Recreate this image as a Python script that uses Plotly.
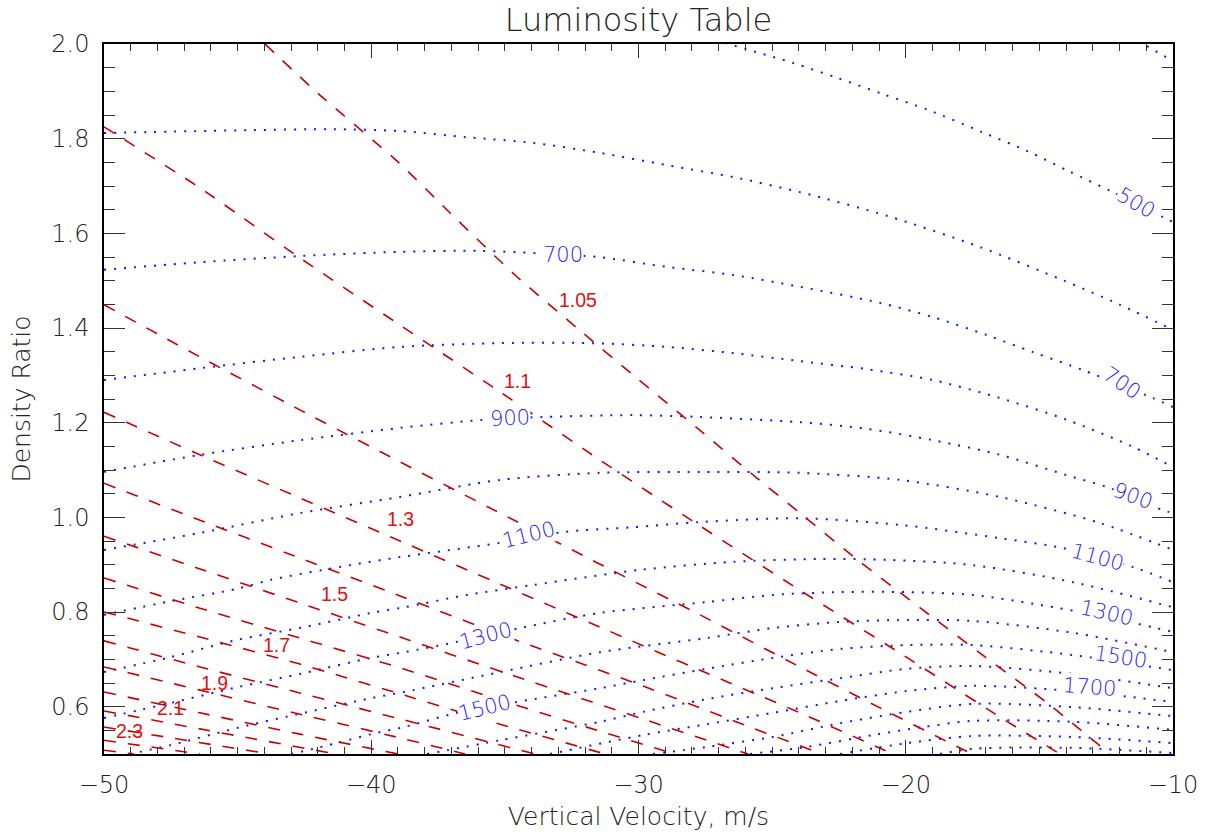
import plotly.graph_objects as go

# ---- Luminosity contours (blue, dotted): vertical velocity (m/s) vs density ratio ----
lum400_v = [-11.3, -10.0]
lum400_r = [2.006, 1.964]

lum500_v = [-26.76, -24.22, -22.54, -20.85, -19.17, -17.15, -15.46, -13.85, -12.25, -10.37, -10.0]
lum500_r = [2.002, 1.960, 1.928, 1.894, 1.861, 1.814, 1.774, 1.730, 1.687, 1.634, 1.624]

lum600_v = [-50, -44.54, -41.54, -38.92, -36.42, -33.95, -31.44, -28.93, -26.46, -23.96, -20.70, -17.22, -14.12, -11.98, -10]
lum600_r = [1.812, 1.818, 1.820, 1.816, 1.803, 1.791, 1.770, 1.744, 1.719, 1.687, 1.637, 1.571, 1.501, 1.449, 1.396]

lum700_v = [-50, -46.41, -42.67, -38.92, -35.93, -33.80, -31.52, -28.93, -26.46, -23.96, -20.96, -18.98, -16.97, -15.24, -13.37, -10.75, -10]
lum700_r = [1.523, 1.539, 1.552, 1.561, 1.563, 1.558, 1.550, 1.529, 1.512, 1.487, 1.453, 1.423, 1.385, 1.349, 1.311, 1.252, 1.233]

lum800_v = [-50, -46.41, -42.67, -38.92, -35.18, -31.70, -28.93, -26.46, -23.96, -21.45, -18.98, -16.47, -13.97, -11.50, -10]
lum800_r = [1.290, 1.315, 1.339, 1.360, 1.368, 1.368, 1.360, 1.347, 1.330, 1.313, 1.290, 1.252, 1.206, 1.149, 1.106]

lum900_v = [-50, -46.41, -42.67, -38.92, -35.82, -33.57, -30.21, -27.70, -23.96, -21.45, -18.98, -16.47, -13.97, -12.47, -10.37, -10]
lum900_r = [1.096, 1.132, 1.163, 1.189, 1.206, 1.212, 1.216, 1.212, 1.201, 1.187, 1.163, 1.132, 1.089, 1.064, 1.015, 1.009]

lum1000_v = [-50, -46.41, -42.67, -38.92, -35.18, -31.44, -27.70, -23.96, -20.21, -16.47, -12.73, -10]
lum1000_r = [0.931, 0.967, 1.009, 1.043, 1.079, 1.094, 1.096, 1.094, 1.079, 1.043, 0.988, 0.931]

lum1100_v = [-50, -47.49, -45.02, -43.75, -40.80, -38.92, -35.18, -32.82, -30.21, -27.70, -23.96, -20.21, -16.47, -14.12, -11.50, -10]
lum1100_r = [0.794, 0.823, 0.849, 0.868, 0.899, 0.916, 0.946, 0.969, 0.979, 0.990, 0.998, 0.984, 0.956, 0.935, 0.895, 0.863]

lum1200_v = [-50, -47.49, -45.02, -42.52, -40.01, -38.77, -36.42, -33.95, -29.94, -26.46, -23.21, -20.59, -17.48, -13.74, -10]
lum1200_r = [0.673, 0.705, 0.741, 0.768, 0.798, 0.810, 0.836, 0.857, 0.889, 0.906, 0.912, 0.910, 0.899, 0.863, 0.810]

lum1300_v = [-50, -47.49, -45.02, -42.52, -40.01, -38.77, -36.79, -34.43, -31.44, -27.44, -24.97, -22.46, -19.95, -17.48, -14.98, -12.47, -10]
lum1300_r = [0.576, 0.608, 0.641, 0.671, 0.703, 0.715, 0.737, 0.766, 0.798, 0.821, 0.836, 0.842, 0.842, 0.836, 0.815, 0.789, 0.758]

lum1400_v = [-49.03, -47.49, -45.02, -42.52, -40.01, -38.77, -35.18, -31.44, -27.44, -24.97, -22.46, -19.95, -17.48, -13.74, -10]
lum1400_r = [0.500, 0.519, 0.555, 0.587, 0.618, 0.631, 0.673, 0.715, 0.745, 0.766, 0.779, 0.783, 0.781, 0.756, 0.715]

lum1500_v = [-43.00, -41.28, -40.01, -38.77, -36.79, -34.55, -31.44, -29.83, -27.44, -24.97, -22.46, -19.95, -17.48, -13.74, -10]
lum1500_r = [0.500, 0.523, 0.542, 0.557, 0.587, 0.610, 0.639, 0.656, 0.680, 0.703, 0.722, 0.730, 0.730, 0.709, 0.677]

lum1600_v = [-37.91, -35.18, -31.44, -29.83, -27.44, -24.97, -22.46, -19.95, -17.48, -13.74, -10]
lum1600_r = [0.500, 0.529, 0.568, 0.589, 0.616, 0.639, 0.660, 0.680, 0.686, 0.669, 0.639]

lum1700_v = [-33.31, -29.83, -27.44, -24.97, -22.46, -19.95, -17.48, -13.74, -10]
lum1700_r = [0.500, 0.540, 0.563, 0.587, 0.612, 0.633, 0.644, 0.633, 0.610]

lum1800_v = [-29.46, -27.44, -24.97, -22.46, -19.95, -17.48, -13.74, -10]
lum1800_r = [0.500, 0.515, 0.536, 0.565, 0.589, 0.606, 0.599, 0.580]

lum1900_v = [-25.83, -23.70, -21.23, -19.35, -17.48, -13.74, -10]
lum1900_r = [0.500, 0.515, 0.540, 0.557, 0.570, 0.568, 0.551]

lum2000_v = [-22.46, -19.95, -17.48, -13.74, -10]
lum2000_r = [0.500, 0.523, 0.538, 0.536, 0.523]

lum2100_v = [-18.72, -17.48, -13.74, -10]
lum2100_r = [0.500, 0.511, 0.513, 0.502]

# ---- Second quantity contours (red, dashed) ----
q105_v = [-43.98, -41.92, -39.00, -37.05, -34.62, -32.30, -30.06, -27.81, -25.57, -23.96, -21.71, -19.35, -17.03, -14.71, -12.36]
q105_r = [2.000, 1.892, 1.751, 1.643, 1.512, 1.400, 1.294, 1.189, 1.083, 1.009, 0.906, 0.804, 0.705, 0.608, 0.500]

q110_v = [-50, -46.41, -42.67, -38.92, -35.18, -31.44, -27.70, -23.96, -20.21, -16.47, -14.23]
q110_r = [1.825, 1.696, 1.548, 1.406, 1.265, 1.121, 0.982, 0.846, 0.713, 0.578, 0.500]

q120_v = [-50, -46.41, -42.67, -38.92, -35.18, -31.44, -27.70, -23.96, -20.21, -17.52]
q120_r = [1.449, 1.339, 1.227, 1.117, 1.009, 0.901, 0.794, 0.684, 0.576, 0.500]

q130_v = [-50, -46.41, -42.67, -38.92, -35.18, -31.44, -27.70, -23.96, -20.48]
q130_r = [1.222, 1.132, 1.041, 0.950, 0.859, 0.768, 0.677, 0.587, 0.500]

q140_v = [-50, -46.41, -42.67, -38.92, -35.18, -29.94, -25.83, -23.13]
q140_r = [1.072, 0.994, 0.914, 0.834, 0.753, 0.646, 0.557, 0.500]

q150_v = [-50, -46.41, -42.67, -38.92, -35.18, -29.94, -25.90]
q150_r = [0.960, 0.891, 0.819, 0.747, 0.675, 0.576, 0.500]

q160_v = [-50, -46.41, -42.67, -38.92, -35.18, -31.44, -28.63]
q160_r = [0.872, 0.808, 0.745, 0.682, 0.614, 0.548, 0.500]

q170_v = [-50, -46.41, -42.67, -38.92, -35.18, -31.25]
q170_r = [0.800, 0.747, 0.690, 0.627, 0.563, 0.500]

q180_v = [-50, -46.41, -42.67, -38.92, -33.87]
q180_r = [0.739, 0.684, 0.629, 0.574, 0.500]

q190_v = [-50, -46.41, -42.67, -38.92, -36.49]
q190_r = [0.684, 0.635, 0.584, 0.534, 0.500]

q200_v = [-50, -46.41, -42.67, -39.00]
q200_r = [0.631, 0.587, 0.542, 0.500]

q210_v = [-50, -46.41, -41.32]
q210_r = [0.591, 0.553, 0.500]

q220_v = [-50, -43.79]
q220_r = [0.557, 0.500]

q230_v = [-50, -46.41]
q230_r = [0.529, 0.500]

q240_v = [-50, -48.88]
q240_r = [0.508, 0.500]

# ---- contour labels ----
lum_label_text = ["500", "700", "700", "900", "900", "1100", "1100", "1300", "1300", "1500", "1500", "1700"]
lum_label_v = [-11.38, -32.82, -11.92, -34.81, -11.50, -34.10, -12.84, -35.74, -12.47, -35.78, -11.95, -13.11]
lum_label_r = [1.664, 1.554, 1.284, 1.210, 1.045, 0.963, 0.916, 0.749, 0.798, 0.597, 0.705, 0.641]
lum_label_angle = [30, 0, 34, -3, 20, -14, 15, -15, 13, -14, 9, 4]

q_label_text = ["1.05", "1.1", "1.3", "1.5", "1.7", "1.9", "2.1", "2.3"]
q_label_v = [-32.26, -34.51, -38.92, -41.36, -43.53, -45.88, -47.53, -49.06]
q_label_r = [1.459, 1.288, 0.996, 0.838, 0.730, 0.650, 0.597, 0.548]

lum_lines = [
    (lum400_v, lum400_r), (lum500_v, lum500_r), (lum600_v, lum600_r), (lum700_v, lum700_r),
    (lum800_v, lum800_r), (lum900_v, lum900_r), (lum1000_v, lum1000_r), (lum1100_v, lum1100_r),
    (lum1200_v, lum1200_r), (lum1300_v, lum1300_r), (lum1400_v, lum1400_r), (lum1500_v, lum1500_r),
    (lum1600_v, lum1600_r), (lum1700_v, lum1700_r), (lum1800_v, lum1800_r), (lum1900_v, lum1900_r),
    (lum2000_v, lum2000_r), (lum2100_v, lum2100_r),
]
q_lines = [
    (q105_v, q105_r), (q110_v, q110_r), (q120_v, q120_r), (q130_v, q130_r), (q140_v, q140_r),
    (q150_v, q150_r), (q160_v, q160_r), (q170_v, q170_r), (q180_v, q180_r), (q190_v, q190_r),
    (q200_v, q200_r), (q210_v, q210_r), (q220_v, q220_r), (q230_v, q230_r), (q240_v, q240_r),
]

BLUE = "#1414ff"
RED = "#c80000"
TEXT_FONT = "DejaVu Sans"
TEXT_WEIGHT = 200

fig = go.Figure()

for v, r in lum_lines:
    fig.add_trace(go.Scatter(
        x=v, y=r, mode="lines", hoverinfo="skip", showlegend=False,
        line=dict(color=BLUE, width=2, dash="2px,8px", shape="spline", smoothing=0.8),
    ))

for v, r in q_lines:
    fig.add_trace(go.Scatter(
        x=v, y=r, mode="lines", hoverinfo="skip", showlegend=False,
        line=dict(color=RED, width=1.6, dash="12px,12px", shape="spline", smoothing=0.6),
    ))

annotations = []
for t, v, r, a in zip(lum_label_text, lum_label_v, lum_label_r, lum_label_angle):
    annotations.append(dict(
        x=v, y=r, xref="x", yref="y", text=t, showarrow=False, textangle=a,
        font=dict(family=TEXT_FONT, size=21, color="#2424ff", weight=TEXT_WEIGHT),
        bgcolor="white", borderpad=0,
    ))
for t, v, r in zip(q_label_text, q_label_v, q_label_r):
    annotations.append(dict(
        x=v, y=r, xref="x", yref="y", text=t, showarrow=False,
        font=dict(family="Liberation Sans", size=19.5, color="#dd1111"),
    ))

axis_common = dict(
    showgrid=False, zeroline=False, showline=True, linecolor="black", linewidth=1.5,
    mirror="ticks", ticks="inside", tickcolor="#333333", tickwidth=1.2, automargin=False,
    tickfont=dict(family=TEXT_FONT, size=24, color="#222222", weight=TEXT_WEIGHT),
)

fig.update_layout(
    width=1206, height=834,
    margin=dict(l=104, r=33, t=44, b=80, autoexpand=False),
    paper_bgcolor="white", plot_bgcolor="white",
    title=dict(
        text="Luminosity Table", x=0.5, xref="paper", xanchor="center",
        y=0.976, yref="container", yanchor="middle",
        font=dict(family=TEXT_FONT, size=32, color="#222222", weight=TEXT_WEIGHT),
    ),
    xaxis=dict(
        axis_common, range=[-50, -10], tick0=-50, dtick=10, ticklen=14,
        minor=dict(dtick=1, ticks="inside", ticklen=7, tickcolor="#333333", tickwidth=1),
        ticklabelstandoff=8,
        title=dict(text="Vertical Velocity, m/s", standoff=10,
                   font=dict(family=TEXT_FONT, size=25, color="#222222", weight=TEXT_WEIGHT)),
    ),
    yaxis=dict(
        axis_common, range=[0.5, 2.0], tick0=0, dtick=0.2, ticklen=21, tickformat=".1f",
        minor=dict(dtick=0.05, ticks="inside", ticklen=11, tickcolor="#333333", tickwidth=1),
        ticklabelstandoff=8,
        title=dict(text="Density Ratio", standoff=14,
                   font=dict(family=TEXT_FONT, size=25, color="#222222", weight=TEXT_WEIGHT)),
    ),
    annotations=annotations,
)

fig.write_html("out.html")
